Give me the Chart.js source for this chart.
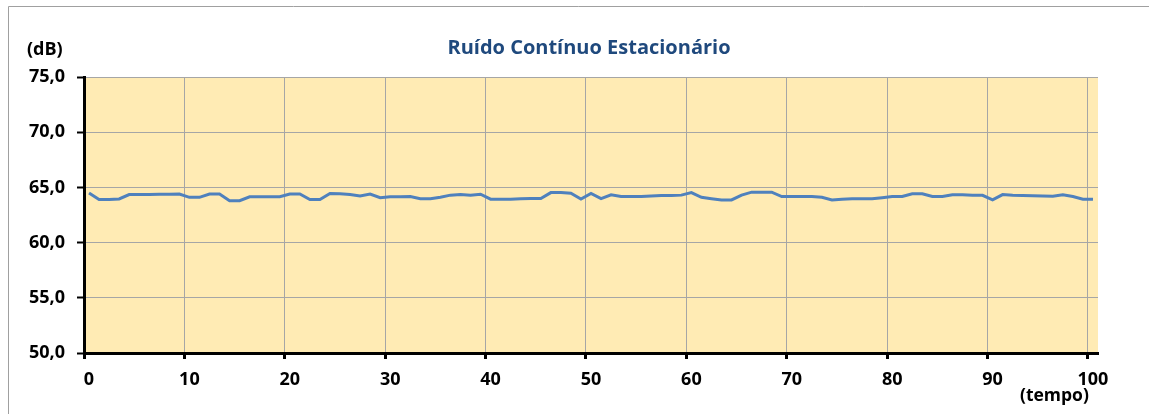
<!DOCTYPE html>
<html>
<head>
<meta charset="utf-8">
<script src="https://cdn.jsdelivr.net/npm/chart.js@4/dist/chart.umd.min.js"></script>
<style>
  html, body { margin: 0; padding: 0; background: #fff; }
  #wrap { width: 1149px; height: 414px; position: relative; }
</style>
</head>
<body>
<div id="wrap"><canvas id="c" width="1149" height="414"></canvas></div>
<script>
// Sample instants (tempo) and measured levels (dB)
const tempo = [
  0.5, 1.5, 2.5, 3.5, 4.5, 5.5, 6.5, 7.5, 8.5, 9.5,
  10.5, 11.5, 12.5, 13.5, 14.5, 15.5, 16.5, 17.5, 18.5, 19.5,
  20.5, 21.5, 22.5, 23.5, 24.5, 25.5, 26.5, 27.5, 28.5, 29.5,
  30.5, 31.5, 32.5, 33.5, 34.5, 35.5, 36.5, 37.5, 38.5, 39.5,
  40.5, 41.5, 42.5, 43.5, 44.5, 45.5, 46.5, 47.5, 48.5, 49.5,
  50.5, 51.5, 52.5, 53.5, 54.5, 55.5, 56.5, 57.5, 58.5, 59.5,
  60.5, 61.5, 62.5, 63.5, 64.5, 65.5, 66.5, 67.5, 68.5, 69.5,
  70.5, 71.5, 72.5, 73.5, 74.5, 75.5, 76.5, 77.5, 78.5, 79.5,
  80.5, 81.5, 82.5, 83.5, 84.5, 85.5, 86.5, 87.5, 88.5, 89.5,
  90.5, 91.5, 92.5, 93.5, 94.5, 95.5, 96.5, 97.5, 98.5, 99.5,
  100.5
];
const nivel = [
  64.50, 63.90, 63.90, 63.95, 64.35, 64.35, 64.35, 64.38, 64.38, 64.40,
  64.10, 64.10, 64.40, 64.40, 63.80, 63.80, 64.15, 64.15, 64.15, 64.15,
  64.40, 64.40, 63.90, 63.90, 64.45, 64.42, 64.35, 64.23, 64.40, 64.07,
  64.15, 64.15, 64.17, 63.98, 63.98, 64.10, 64.30, 64.35, 64.30, 64.38,
  63.93, 63.93, 63.93, 63.98, 64.00, 64.00, 64.53, 64.53, 64.47, 63.95,
  64.45, 63.98, 64.33, 64.17, 64.17, 64.17, 64.23, 64.27, 64.27, 64.30,
  64.53, 64.10, 63.98, 63.87, 63.87, 64.30, 64.57, 64.57, 64.57, 64.17,
  64.17, 64.17, 64.17, 64.10, 63.87, 63.93, 63.98, 63.98, 63.98, 64.07,
  64.17, 64.17, 64.43, 64.43, 64.17, 64.17, 64.33, 64.33, 64.30, 64.28,
  63.87, 64.35, 64.28, 64.27, 64.25, 64.22, 64.20, 64.33, 64.17, 63.93,
  63.93
];
const xTicks = [0, 10, 20, 30, 40, 50, 60, 70, 80, 90, 100];
const yTicks = [50, 55, 60, 65, 70, 75];

const titulo = 'Ruído Contínuo Estacionário';
const unidadeY = '(dB)';
const unidadeX = '(tempo)';

const FONT = '"Open Sans", "DejaVu Sans", sans-serif';

// Frame, plot background and the free text labels
const decor = {
  id: 'decor',
  beforeDraw(chart) {
    const { ctx, chartArea: a, width, height } = chart;
    ctx.save();
    ctx.fillStyle = '#ffffff';
    ctx.fillRect(0, 0, width, height);
    ctx.strokeStyle = '#a0a0a0';
    ctx.lineWidth = 1;
    ctx.beginPath();
    ctx.moveTo(8.5, height);
    ctx.lineTo(8.5, 6.5);
    ctx.lineTo(width, 6.5);
    ctx.stroke();
    ctx.fillStyle = 'rgb(255,235,180)';
    ctx.fillRect(a.left, a.top, a.right - a.left, a.bottom - a.top);
    ctx.restore();
  },
  afterDraw(chart) {
    const { ctx } = chart;
    ctx.save();
    ctx.textBaseline = 'middle';
    ctx.fillStyle = '#1F497D';
    ctx.font = 'bold 20px ' + FONT;
    ctx.textAlign = 'center';
    ctx.fillText(titulo, 589, 48);
    ctx.fillStyle = '#000';
    ctx.font = 'bold 18px ' + FONT;
    ctx.textAlign = 'left';
    ctx.fillText(unidadeY, 27, 50);
    ctx.font = 'bold 17.5px ' + FONT;
    ctx.fillText(unidadeX, 1020, 396);
    ctx.restore();
  }
};

new Chart(document.getElementById('c'), {
  type: 'line',
  data: {
    datasets: [{
      data: tempo.map((t, i) => ({ x: t, y: nivel[i] })),
      borderColor: '#4F81BD',
      borderWidth: 3,
      pointRadius: 0,
      tension: 0,
      fill: false
    }]
  },
  options: {
    responsive: false,
    animation: false,
    devicePixelRatio: 1,
    layout: { padding: { left: 0, top: 77, right: 51, bottom: 0 } },
    plugins: { legend: { display: false }, tooltip: { enabled: false }, title: { display: false } },
    scales: {
      x: {
        type: 'linear',
        min: 0,
        max: 101,
        afterBuildTicks(scale) { scale.ticks = xTicks.map(v => ({ value: v })); },
        afterFit(scale) { scale.height = 61; },
        ticks: {
          color: '#000',
          font: { family: FONT, size: 18, weight: 'bold' },
          padding: 10,
          labelOffset: 5,
          maxRotation: 0,
          autoSkip: false
        },
        grid: { color: '#a6a6a6', lineWidth: 1, tickColor: '#000', tickLength: 6, tickWidth: 3 },
        border: { color: '#000', width: 3 }
      },
      y: {
        min: 50,
        max: 75,
        afterBuildTicks(scale) { scale.ticks = yTicks.map(v => ({ value: v })); },
        afterFit(scale) { scale.width = 84; },
        ticks: {
          color: '#000',
          font: { family: FONT, size: 18, weight: 'bold' },
          padding: 12,
          callback: v => v.toFixed(1).replace('.', ',')
        },
        grid: { color: '#a6a6a6', lineWidth: 1, tickColor: '#000', tickLength: 7, tickWidth: 2 },
        border: { color: '#000', width: 3 }
      }
    }
  },
  plugins: [decor]
});
</script>
</body>
</html>
